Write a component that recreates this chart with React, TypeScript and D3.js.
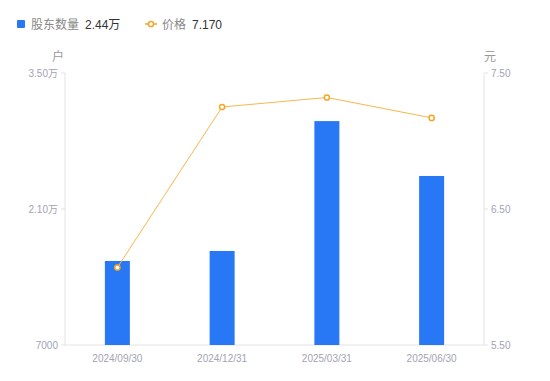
import React from "react";
import * as d3 from "d3";

const categories = ["2024/09/30", "2024/12/31", "2025/03/31", "2025/06/30"];
const holders = [15650, 16680, 30050, 24400];
const prices = [6.07, 7.25, 7.32, 7.17];
const leftTicks = [7000, 21000, 35000];
const leftTickLabels = ["7000", "2.10万", "3.50万"];
const rightTicks = [5.5, 6.5, 7.5];

const W = 550, H = 381;
const L = 65, R = 484, T = 73, B = 345;
const FONT = "'Liberation Sans', Arial, 'Noto Sans CJK SC', sans-serif";

export default function App() {
  const x = d3.scaleBand().domain(categories).range([L, R]);
  const yL = d3.scaleLinear().domain([7000, 35000]).range([B, T]);
  const yR = d3.scaleLinear().domain([5.5, 7.5]).range([B, T]);
  const bw = 25;
  const line = d3
    .line<number>()
    .x((_, i) => (x(categories[i]) as number) + x.bandwidth() / 2)
    .y((d) => yR(d));
  const axisColor = "#e3e3e8";
  const tickText = "#a3a3b3";
  return (
    <svg width={W} height={H} style={{ position: "absolute", left: 0, top: 0 }} fontFamily={FONT}>
      {/* legend */}
      <rect x={17} y={20} width={8} height={8} rx={1} fill="#2878f5" />
      <text x={31} y={29} fontSize={12} fill="#888">股东数量</text>
      <text x={85} y={29} fontSize={12} fill="#333">2.44万</text>
      <line x1={145} y1={24} x2={157} y2={24} stroke="#f5a623" strokeWidth={1.5} />
      <circle cx={151} cy={24} r={2.6} fill="#fff" stroke="#f5a623" strokeWidth={1.5} />
      <text x={162} y={29} fontSize={12} fill="#888">价格</text>
      <text x={192} y={29} fontSize={12} fill="#333">7.170</text>

      {/* unit labels */}
      <text x={58} y={61} fontSize={12} fill="#999" textAnchor="middle">户</text>
      <text x={490} y={61} fontSize={12} fill="#999" textAnchor="middle">元</text>

      {/* axes */}
      <line x1={L} y1={T} x2={L} y2={B} stroke={axisColor} />
      <line x1={R} y1={T} x2={R} y2={B} stroke={axisColor} />
      <line x1={L} y1={B} x2={R} y2={B} stroke={axisColor} />
      {leftTicks.map((t, i) => (
        <g key={"l" + i}>
          <line x1={L - 4} x2={L} y1={yL(t)} y2={yL(t)} stroke={axisColor} />
          <text x={L - 7} y={yL(t) + 3.5} fontSize={10} fill={tickText} textAnchor="end">
            {leftTickLabels[i]}
          </text>
        </g>
      ))}
      {rightTicks.map((t, i) => (
        <g key={"r" + i}>
          <line x1={R} x2={R + 4} y1={yR(t)} y2={yR(t)} stroke={axisColor} />
          <text x={R + 7} y={yR(t) + 3.5} fontSize={10} fill={tickText} textAnchor="start">
            {t.toFixed(2)}
          </text>
        </g>
      ))}
      {categories.map((c) => (
        <text key={c} x={(x(c) as number) + x.bandwidth() / 2} y={362} fontSize={10} fill={tickText} textAnchor="middle">
          {c}
        </text>
      ))}

      {/* bars */}
      {holders.map((v, i) => (
        <rect
          key={i}
          x={(x(categories[i]) as number) + x.bandwidth() / 2 - bw / 2}
          y={yL(v)}
          width={bw}
          height={B - yL(v)}
          fill="#2878f5"
        />
      ))}

      {/* line */}
      <path d={line(prices) || ""} fill="none" stroke="#f7b84a" strokeWidth={1} />
      {prices.map((p, i) => (
        <circle
          key={i}
          cx={(x(categories[i]) as number) + x.bandwidth() / 2}
          cy={yR(p)}
          r={2.6}
          fill="#fff"
          stroke="#f5a623"
          strokeWidth={1.5}
        />
      ))}
    </svg>
  );
}
